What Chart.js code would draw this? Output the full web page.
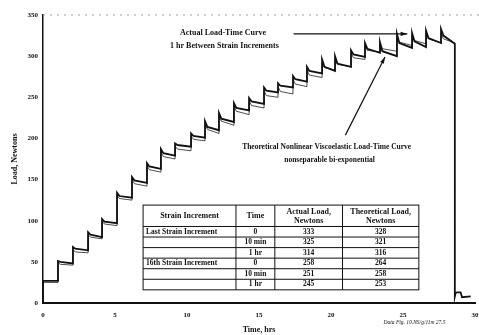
<!DOCTYPE html>
<html lang="en">
<head>
    <meta charset="UTF-8">
    <title>Load-Time Curve</title>
    <style>
        body { margin: 0; background: white; }
        canvas { display: block; }
    </style>
</head>
<body>
    <canvas id="loadChart" width="479" height="335"></canvas>

    <script src="https://cdn.jsdelivr.net/npm/chart.js"></script>
    <script>
        // start time (hrs) of each strain increment, and the time the load was removed
        const stepTimes = [0, 1.04, 2.08, 3.13, 4.10, 5.14, 6.18, 7.22, 8.19, 9.17, 10.28, 11.25, 12.22, 13.26,
                           14.31, 15.35, 16.32, 17.36, 18.33, 19.38, 20.28, 21.39, 22.36, 23.40, 24.58, 25.63, 26.60, 27.64];
        const unloadTime = 28.6;

        // actual load (N): at the step, 10 min after, and at the end of each hour
        const actualPeak = [27, 51, 68, 86, 102, 134, 153, 170, 187, 194, 206, 221, 231, 243,
                            249, 262, 267, 276, 287, 296, 300, 307, 316, 317, 327, 328, 331, 333];
        const actualMid  = [27, 50, 66, 83, 99, 130, 149, 166, 182, 192, 203, 214, 224, 237,
                            245, 258, 264, 272, 282, 287, 291, 302, 309, 306, 316, 318, 322, 325];
        const actualEnd  = [27, 48, 64, 80, 97, 128, 146, 163, 179, 190, 201, 210, 220, 234,
                            242, 256, 262, 269, 279, 282, 287, 299, 304, 300, 310, 311, 316, 315];

        // theoretical (nonseparable bi-exponential) load (N)
        const theoryPeak = [25, 49, 65, 83, 99, 131, 150, 167, 183, 191, 203, 217, 228, 239,
                            246, 258, 263, 272, 283, 292, 296, 304, 312, 315, 323, 325, 328, 328];
        const theoryMid  = [25, 47, 62, 80, 96, 127, 145, 162, 178, 187, 199, 211, 221, 233,
                            240, 252, 257, 266, 277, 286, 290, 298, 307, 309, 317, 319, 321, 321];
        const theoryEnd  = [25, 46, 61, 78, 94, 125, 142, 159, 175, 185, 197, 206, 216, 229,
                            237, 250, 254, 263, 274, 283, 287, 296, 305, 306, 313, 315, 316, 316];

        // small residual reading after unloading
        const tailTimes = [28.6, 28.65, 28.75, 29.0, 29.1, 29.7];
        const tailLoads = [8, 12, 13, 13, 7, 8];

        const xTicks = [0, 5, 10, 15, 20, 25, 30];
        const yTicks = [0, 50, 100, 150, 200, 250, 300, 350];

        // table in the plot
        const tableHead = [['Strain Increment'], ['Time'], ['Actual Load,', 'Newtons'], ['Theoretical Load,', 'Newtons']];
        const tableIncrement = ['Last Strain Increment', '', '', '16th Strain Increment', '', ''];
        const tableTime = ['0', '10 min', '1 hr', '0', '10 min', '1 hr'];
        const tableActual = [333, 325, 314, 258, 251, 245];
        const tableTheory = [328, 321, 316, 264, 258, 253];

        const tenMin = 10 / 60;

        function buildCurve(peak, mid, end, withTail) {
            const pts = [{x: 0, y: 0}];
            stepTimes.forEach((t, k) => {
                const next = k + 1 < stepTimes.length ? stepTimes[k + 1] : unloadTime;
                pts.push({x: t, y: peak[k]});
                pts.push({x: t + tenMin, y: mid[k]});
                pts.push({x: next, y: end[k]});
            });
            if (withTail) {
                tailTimes.forEach((t, i) => pts.push({x: t, y: tailLoads[i]}));
            }
            return pts;
        }

        function arrow(ctx, x1, y1, x2, y2) {
            const a = Math.atan2(y2 - y1, x2 - x1);
            ctx.beginPath();
            ctx.moveTo(x1, y1);
            ctx.lineTo(x2, y2);
            ctx.stroke();
            ctx.beginPath();
            ctx.moveTo(x2, y2);
            ctx.lineTo(x2 - 7 * Math.cos(a - 0.3), y2 - 7 * Math.sin(a - 0.3));
            ctx.lineTo(x2 - 7 * Math.cos(a + 0.3), y2 - 7 * Math.sin(a + 0.3));
            ctx.closePath();
            ctx.fill();
        }

        const overlay = {
            id: 'overlay',
            afterDraw(chart) {
                const {ctx, scales: {x, y}} = chart;
                const X = v => x.getPixelForValue(v);
                const Y = v => y.getPixelForValue(v);
                ctx.save();

                // faint dotted frame line along the top
                ctx.strokeStyle = '#a0a0a0';
                ctx.lineWidth = 1;
                ctx.setLineDash([2, 5]);
                ctx.beginPath();
                ctx.moveTo(X(0), Y(350));
                ctx.lineTo(chart.width, Y(350));
                ctx.stroke();
                ctx.setLineDash([]);

                ctx.fillStyle = '#111';
                ctx.strokeStyle = '#111';
                ctx.textAlign = 'center';
                ctx.textBaseline = 'middle';

                ctx.font = 'bold 8px "Liberation Serif"';
                ctx.fillText('Actual Load-Time Curve', X(12.5), Y(328));
                ctx.fillText('1 hr Between Strain Increments', X(12.6), Y(313));
                ctx.lineWidth = 1.2;
                arrow(ctx, X(17.4), Y(327), X(25.3), Y(327));

                ctx.font = 'bold 7.5px "Liberation Serif"';
                ctx.fillText('Theoretical Nonlinear Viscoelastic Load-Time Curve', X(19.7), Y(190));
                ctx.fillText('nonseparable bi-exponential', X(19.9), Y(174));
                arrow(ctx, X(21.0), Y(204), X(23.75), Y(299));

                // table
                const left = X(6.95), right = X(26.1), top = Y(119), bottom = Y(16);
                const cols = [left, X(13.4), X(16.1), X(20.8), right];
                const headBottom = Y(93);
                const rowH = (bottom - headBottom) / tableTime.length;
                ctx.fillStyle = 'white';
                ctx.fillRect(left, top, right - left, bottom - top);
                ctx.lineWidth = 1;
                ctx.strokeRect(left, top, right - left, bottom - top);
                cols.slice(1, 4).forEach(cx => {
                    ctx.beginPath(); ctx.moveTo(cx, top); ctx.lineTo(cx, bottom); ctx.stroke();
                });
                for (let r = 0; r < tableTime.length; r++) {
                    const ly = headBottom + r * rowH;
                    ctx.beginPath(); ctx.moveTo(left, ly); ctx.lineTo(right, ly); ctx.stroke();
                }

                ctx.fillStyle = '#111';
                ctx.font = 'bold 8px "Liberation Serif"';
                tableHead.forEach((lines, c) => {
                    const cx = (cols[c] + cols[c + 1]) / 2;
                    lines.forEach((s, i) => {
                        const ty = lines.length === 1 ? (top + headBottom) / 2
                                                      : top + (headBottom - top) * (0.3 + 0.42 * i);
                        ctx.fillText(s, cx, ty);
                    });
                });
                ctx.font = 'bold 7.5px "Liberation Serif"';
                for (let r = 0; r < tableTime.length; r++) {
                    const ty = headBottom + (r + 0.5) * rowH;
                    ctx.textAlign = 'left';
                    ctx.fillText(tableIncrement[r], cols[0] + 3, ty);
                    ctx.textAlign = 'center';
                    ctx.fillText(tableTime[r], (cols[1] + cols[2]) / 2, ty);
                    ctx.fillText(String(tableActual[r]), (cols[2] + cols[3]) / 2, ty);
                    ctx.fillText(String(tableTheory[r]), (cols[3] + cols[4]) / 2, ty);
                }

                // source note under the axis
                ctx.font = 'italic 5.5px "Liberation Serif"';
                ctx.textAlign = 'center';
                ctx.fillText('Data Fig. 10.NS/g/11m 27.5', X(25.8), chart.height - 12);
                ctx.restore();
            }
        };

        const ctx = document.getElementById('loadChart').getContext('2d');
        const loadChart = new Chart(ctx, {
            type: 'scatter',
            data: {
                datasets: [
                    {
                        label: 'Actual Load-Time Curve',
                        data: buildCurve(actualPeak, actualMid, actualEnd, true),
                        showLine: true,
                        borderColor: '#111',
                        borderWidth: 1.8,
                        pointRadius: 0
                    },
                    {
                        label: 'Theoretical Load-Time Curve',
                        data: buildCurve(theoryPeak, theoryMid, theoryEnd, false),
                        showLine: true,
                        borderColor: '#222',
                        borderWidth: 0.8,
                        pointRadius: 0
                    }
                ]
            },
            options: {
                responsive: false,
                animation: false,
                devicePixelRatio: 1,
                layout: { padding: { top: 15, right: 0, bottom: 0, left: 0 } },
                plugins: {
                    legend: { display: false },
                    tooltip: { enabled: false }
                },
                scales: {
                    x: {
                        type: 'linear',
                        min: 0,
                        max: 30,
                        afterFit: s => { s.height = 32; s.paddingLeft = 0; s.paddingRight = 4; },
                        afterBuildTicks: s => { s.ticks = xTicks.map(v => ({value: v})); },
                        grid: { display: false, drawTicks: false },
                        border: { display: true, color: '#111', width: 2 },
                        ticks: {
                            padding: 8,
                            color: '#111',
                            font: { family: 'Liberation Serif', size: 7, weight: 'bold' }
                        },
                        title: {
                            display: true,
                            text: 'Time, hrs',
                            color: '#111',
                            padding: { top: 0, bottom: 0 },
                            font: { family: 'Liberation Serif', size: 8, weight: 'bold' }
                        }
                    },
                    y: {
                        min: 0,
                        max: 350,
                        afterFit: s => { s.width = 43; },
                        afterBuildTicks: s => { s.ticks = yTicks.map(v => ({value: v})); },
                        grid: { display: false, drawTicks: false },
                        border: { display: true, color: '#111', width: 1.5 },
                        ticks: {
                            padding: 5,
                            color: '#111',
                            font: { family: 'Liberation Serif', size: 7, weight: 'bold' }
                        },
                        title: {
                            display: true,
                            text: 'Load, Newtons',
                            color: '#111',
                            padding: { top: 10, bottom: 0 },
                            font: { family: 'Liberation Serif', size: 8, weight: 'bold' }
                        }
                    }
                }
            },
            plugins: [overlay]
        });
    </script>
</body>
</html>
